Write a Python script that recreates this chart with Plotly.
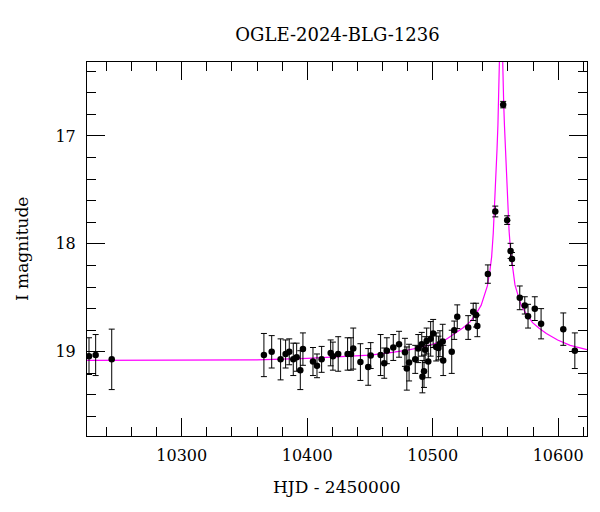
import plotly.graph_objs as go

# photometry: HJD - 2450000, I mag, error
hjd = [10226.1, 10231.4, 10244.2, 10365.5, 10371.7, 10378.8, 10382.8, 10385.7, 10388.9, 10391.6,
       10394.5, 10396.6, 10404.6, 10407.8, 10411.5, 10418.7, 10420.5, 10424.7, 10432.2, 10434.9,
       10436.7, 10442.4, 10448.6, 10450.6, 10458.5, 10461.4, 10463.5, 10468.6, 10473.2, 10477.9,
       10479.4, 10481.2, 10486.1, 10488.5, 10491.3, 10491.8, 10493.1, 10494.0, 10495.2, 10496.5,
       10498.4, 10500.4, 10502.8, 10504.6, 10505.8, 10508.0, 10508.4, 10515.2, 10517.2, 10519.6,
       10528.3, 10532.3, 10534.6, 10535.6, 10544.0, 10549.9, 10556.2, 10559.4, 10562.1, 10563.2,
       10569.4, 10573.4, 10576.0, 10581.4, 10586.4, 10604.1, 10613.3]
mag = [19.04, 19.03, 19.07, 19.03, 19.00, 19.07, 19.02, 19.00, 19.07, 19.05,
       19.17, 18.975, 19.09, 19.13, 19.07, 19.01, 19.04, 19.02, 19.02, 19.02,
       18.97, 19.095, 19.14, 19.035, 19.03, 19.105, 18.99, 18.96, 18.93, 19.005,
       19.155, 19.10, 19.07, 18.97, 18.93, 19.23, 19.18, 18.98, 18.90, 19.09,
       18.88, 18.83, 18.955, 18.965, 18.925, 18.905, 19.08, 19.00, 18.80, 18.675,
       18.775, 18.63, 18.66, 18.76, 18.28, 17.70, 16.71, 17.78, 18.065, 18.14,
       18.50, 18.57, 18.67, 18.60, 18.74, 18.79, 18.99]
err = [0.17, 0.19, 0.28, 0.20, 0.15, 0.19, 0.13, 0.12, 0.15, 0.13,
       0.18, 0.15, 0.13, 0.11, 0.12, 0.12, 0.13, 0.16, 0.15, 0.15,
       0.19, 0.17, 0.17, 0.12, 0.19, 0.14, 0.12, 0.12, 0.12, 0.13,
       0.20, 0.17, 0.13, 0.13, 0.11, 0.15, 0.15, 0.12, 0.12, 0.15,
       0.16, 0.13, 0.13, 0.11, 0.12, 0.16, 0.14, 0.20, 0.085, 0.11,
       0.11, 0.08, 0.11, 0.10, 0.085, 0.05, 0.03, 0.04, 0.07, 0.06,
       0.11, 0.08, 0.11, 0.11, 0.14, 0.15, 0.165]

# model curve
model_t = [10224.5, 10300, 10360, 10400, 10430, 10450, 10465, 10480, 10490, 10500,
           10510, 10518, 10524, 10530, 10535, 10538.6, 10541.1, 10543.6, 10545.6, 10547.0,
           10548.3, 10549.4, 10550.4, 10551.3, 10552.0, 10552.6, 10553.1, 10553.6, 10554.1, 10554.6,
           10555.1, 10555.6, 10556.1, 10556.6, 10557.2, 10557.9, 10558.8, 10559.8, 10560.9, 10562.2,
           10563.6, 10565.6, 10568.1, 10570.6, 10574.1, 10579.6, 10584.6, 10590.6, 10599.6, 10609.6,
           10623]
model_mag = [19.08, 19.08, 19.075, 19.06, 19.045, 19.03, 19.01, 18.985, 18.96, 18.93,
             18.89, 18.83, 18.78, 18.72, 18.64, 18.57, 18.48, 18.39, 18.25, 18.12,
             17.9, 17.65, 17.4, 17.12, 16.9, 16.7, 16.52, 16.3, 15.95, 15.6,
             15.95, 16.3, 16.52, 16.7, 16.9, 17.12, 17.4, 17.65, 17.88, 18.08,
             18.22, 18.38, 18.48, 18.57, 18.64, 18.73, 18.78, 18.83, 18.89, 18.94,
             18.98]

font = "DejaVu Serif"
xr = [10224.5, 10623]
yr = [19.78, 16.315]

fig = go.Figure()
fig.add_trace(go.Scatter(x=model_t, y=model_mag, mode="lines",
                         line=dict(color="#ff00ff", width=1.2), hoverinfo="skip"))
fig.add_trace(go.Scatter(
    x=hjd, y=mag, mode="markers",
    marker=dict(color="black", size=6.5),
    error_y=dict(type="data", array=err, color="black", thickness=1, width=3),
))
# empty trace to carry the top/right tick axes
fig.add_trace(go.Scatter(x=[None], y=[None], xaxis="x2", yaxis="y2", hoverinfo="skip"))

tick_common = dict(
    showline=True, linecolor="black", linewidth=1,
    ticks="inside", tickcolor="black", tickwidth=1.2, ticklen=18,
    showgrid=False, zeroline=False, automargin=False,
    tickfont=dict(family=font, size=16, color="black"),
)
xminor = dict(dtick=20, tick0=10000, ticks="inside", ticklen=9, tickcolor="black",
              tickwidth=1.2, showgrid=False)
yminor = dict(dtick=0.2, tick0=0, ticks="inside", ticklen=9, tickcolor="black",
              tickwidth=1.2, showgrid=False)

fig.update_layout(
    width=600, height=512,
    margin=dict(l=87, r=13, t=62, b=76),
    paper_bgcolor="white", plot_bgcolor="white",
    showlegend=False,
    title=dict(text="OGLE-2024-BLG-1236", x=0.5625, xanchor="center", y=0.932, yanchor="middle",
               font=dict(family=font, size=18, color="black")),
    xaxis=dict(range=xr, dtick=100, tick0=10000, tickformat="d", minor=xminor,
               ticklabelstandoff=5, **tick_common),
    yaxis=dict(range=yr, dtick=1, tick0=0, minor=yminor,
               ticklabelstandoff=7, **tick_common),
    xaxis2=dict(range=xr, dtick=100, tick0=10000, minor=xminor, overlaying="x", side="top",
                showticklabels=False, **tick_common),
    yaxis2=dict(range=yr, dtick=1, tick0=0, minor=yminor, overlaying="y", side="right",
                showticklabels=False, **tick_common),
    annotations=[
        dict(text="HJD - 2450000", xref="paper", yref="paper", x=0.5, y=-0.136,
             xanchor="center", yanchor="middle", showarrow=False,
             font=dict(family=font, size=17, color="black")),
        dict(text="I magnitude", xref="paper", yref="paper", x=-0.13, y=0.5,
             xanchor="center", yanchor="middle", textangle=-90, showarrow=False,
             font=dict(family=font, size=17, color="black")),
    ],
)

# drop the default 8px page margin so the figure sits at the window origin
fig.write_html("out.html", config={"displayModeBar": False},
               post_script="document.body.style.margin='0';")
